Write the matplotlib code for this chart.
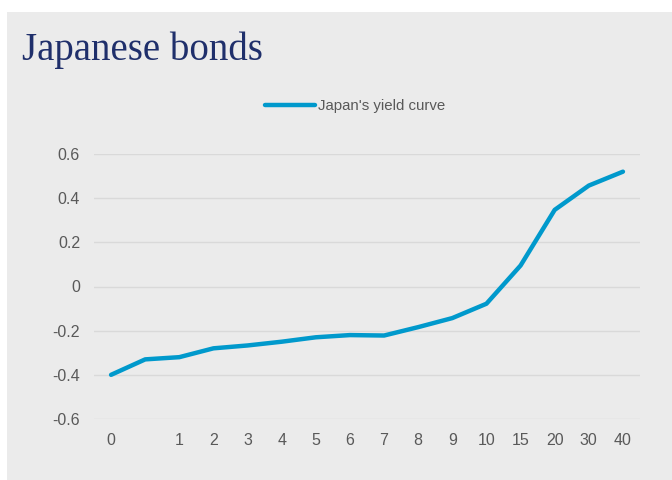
import matplotlib.pyplot as plt
from matplotlib.patches import Rectangle

# Japan's yield curve by maturity (years)
maturities = ['0', '', '1', '2', '3', '4', '5', '6', '7', '8', '9', '10', '15', '20', '30', '40']
yields = [-0.40, -0.33, -0.32, -0.28, -0.267, -0.25, -0.23, -0.22, -0.222, -0.184, -0.143, -0.078, 0.095, 0.347, 0.457, 0.52]
y_ticks = [-0.6, -0.4, -0.2, 0, 0.2, 0.4, 0.6]
y_tick_labels = ['-0.6', '-0.4', '-0.2', '0', '0.2', '0.4', '0.6']

bg = '#EBEBEB'
label_font = ['Liberation Sans Narrow', 'Liberation Sans', 'DejaVu Sans']

fig = plt.figure(figsize=(6.72, 4.8), dpi=100, facecolor='white')
# grey panel behind everything
fig.patches.append(Rectangle((7 / 672, 0), 1, 1 - 12 / 480, transform=fig.transFigure,
                             facecolor=bg, edgecolor='none', zorder=-10))

ax = fig.add_axes([94 / 672, 1 - 419 / 480, (640 - 94) / 672, (419 - 154) / 480])
ax.set_facecolor(bg)
ax.patch.set_alpha(0)

x = list(range(len(maturities)))
ax.plot(x, yields, color='#0099CC', linewidth=3.2, solid_capstyle='round',
        solid_joinstyle='round', label="Japan's yield curve", zorder=3)

ax.set_xlim(-0.5, len(maturities) - 0.5)
ax.set_ylim(-0.6, 0.6)
ax.set_xticks(x)
ax.set_xticklabels(maturities)
ax.set_yticks(y_ticks)
ax.set_yticklabels(y_tick_labels)

ax.grid(axis='y', color='#D9D9D9', linewidth=1)
ax.set_axisbelow(True)
for s in ax.spines.values():
    s.set_visible(False)
ax.tick_params(length=0, colors='#595959', labelsize=11.5)
ax.tick_params(axis='y', pad=10)
ax.tick_params(axis='x', pad=10)
for lab in ax.get_xticklabels() + ax.get_yticklabels():
    lab.set_family(label_font)

leg = ax.legend(loc='center', bbox_to_anchor=(355 / 672, 1 - 106 / 480),
                bbox_transform=fig.transFigure, frameon=False, handlelength=3.3,
                handletextpad=0.2, prop={'family': label_font, 'size': 10.8})
for t in leg.get_texts():
    t.set_color('#595959')

fig.text(22 / 672, 1 - 50 / 480, 'Japanese bonds', color='#1F2F6B', fontsize=28,
         family=['Liberation Serif', 'DejaVu Serif'], va='center', ha='left')

fig.savefig('out.png', dpi=100, facecolor='white')
